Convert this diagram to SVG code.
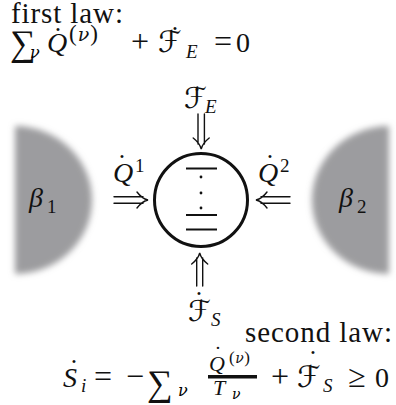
<svg xmlns="http://www.w3.org/2000/svg" width="396" height="405" viewBox="0 0 396 405">
<defs>
<filter id="blur" x="-20%" y="-20%" width="140%" height="140%"><feGaussianBlur stdDeviation="3"/></filter>
</defs>
<style>
.t{font-family:"Liberation Serif","Times New Roman",serif;fill:#111}
.i{font-style:italic}
.g{font-family:"DejaVu Serif","Liberation Serif",serif;font-style:italic}
.cal{font-family:"DejaVu Serif","DejaVu Sans","Noto Sans",serif;fill:#111}
.m{text-anchor:middle}
.arr{fill:none;stroke:#111;stroke-width:1.4;stroke-linecap:round}
.lvl{stroke:#111;stroke-width:2}
</style>
<rect width="396" height="405" fill="#fff"/>

<g id="bath1">
<path d="M15,126 A77,74 0 0 1 15,274 Z" fill="#9c9c9f" filter="url(#blur)"/>
<text class="t i" x="29" y="207" font-size="28">β</text>
<text class="t" x="47" y="213" font-size="19">1</text>
</g>

<g id="bath2">
<path d="M389,126 A77,74 0 0 0 389,274 Z" fill="#9c9c9f" filter="url(#blur)"/>
<text class="t i" x="339" y="207" font-size="28">β</text>
<text class="t" x="357" y="213" font-size="19">2</text>
</g>

<g id="system">
<circle cx="201" cy="200" r="46.5" fill="none" stroke="#111" stroke-width="3"/>
<line class="lvl" x1="186" y1="168.5" x2="217" y2="168.5"/>
<circle cx="201" cy="177" r="1.4" fill="#111"/>
<circle cx="201" cy="193" r="1.4" fill="#111"/>
<circle cx="201" cy="208" r="1.4" fill="#111"/>
<line class="lvl" x1="186" y1="215" x2="217" y2="215"/>
<line class="lvl" x1="186" y1="229.5" x2="217" y2="229.5"/>
</g>

<g id="connectors">
<path class="arr" d="M114,196.7 H143 M114,203.3 H143 M137,192 C140,196 144,199 148,200 C144,201 140,204 137,208"/>
<path class="arr" d="M261,196.7 H290 M261,203.3 H290 M267,192 C264,196 260,199 256,200 C260,201 264,204 267,208"/>
<path class="arr" d="M198,114 V144 M204.4,114 V144 M193.2,138 C197,141 200.2,145 201.2,149 C202.2,145 205.4,141 209.2,138"/>
<path class="arr" d="M196.7,258 V286 M202.7,258 V286 M191.7,264 C195.5,261 198.7,257 199.7,253 C200.7,257 203.9,261 207.7,264"/>
</g>

<g id="label-Q1">
<text class="t m" x="122" y="173" font-size="28">˙</text>
<text class="t i" x="113" y="182" font-size="28">Q</text>
<text class="t" x="135" y="172" font-size="19">1</text>
</g>
<g id="label-Q2">
<text class="t m" x="270" y="173" font-size="28">˙</text>
<text class="t i" x="258" y="182" font-size="28">Q</text>
<text class="t" x="280" y="172" font-size="19">2</text>
</g>
<g id="label-FE">
<text class="t m" x="197" y="106" font-size="28">˙</text>
<text class="cal" x="184" y="108" font-size="29">ℱ</text>
<text class="t i" x="205" y="113" font-size="19">E</text>
</g>
<g id="label-FS">
<text class="t m" x="199" y="310" font-size="28">˙</text>
<text class="cal" x="188" y="321" font-size="29">ℱ</text>
<text class="t i" x="211" y="326" font-size="19">S</text>
</g>

<g id="first-law">
<text class="t" x="11" y="23" font-size="29" textLength="112" lengthAdjust="spacing">first law:</text>
<text class="t" x="10" y="55" font-size="36">∑</text>
<text class="g" x="30" y="58" font-size="16">ν</text>
<text class="t m" x="58" y="46" font-size="28">˙</text>
<text class="t i" x="47" y="52" font-size="28">Q</text>
<text class="t" x="69" y="41" font-size="23">(<tspan class="g" font-size="19" dx="1">ν</tspan><tspan dx="1">)</tspan></text>
<text class="t m" x="140" y="52" font-size="32">+</text>
<text class="t m" x="175" y="45" font-size="28">˙</text>
<text class="cal" x="158" y="52" font-size="30">ℱ</text>
<text class="t i" x="186" y="58" font-size="19">E</text>
<text class="t m" x="223" y="52" font-size="32">=</text>
<text class="t" x="236" y="52" font-size="28">0</text>
</g>

<g id="second-law">
<text class="t" x="245" y="342" font-size="29" textLength="147" lengthAdjust="spacing">second law:</text>
<text class="t m" x="74" y="378" font-size="28">˙</text>
<text class="t i" x="63" y="387" font-size="28">S</text>
<text class="t i" x="81" y="392" font-size="19">i</text>
<text class="t m" x="103" y="387" font-size="32">=</text>
<text class="t m" x="135" y="387" font-size="32">−</text>
<text class="t" x="147" y="395" font-size="36">∑</text>
<text class="g" x="178" y="396" font-size="16">ν</text>
<text class="t m" x="218" y="361" font-size="22">˙</text>
<text class="t i" x="209" y="371" font-size="22">Q</text>
<text class="t" x="229" y="363" font-size="17">(<tspan class="g" font-size="14" dx="0.5">ν</tspan><tspan dx="0.5">)</tspan></text>
<rect x="208" y="375" width="49" height="3.5" fill="#111"/>
<text class="t i" x="213" y="395" font-size="22">T</text>
<text class="g" x="232" y="399" font-size="14">ν</text>
<text class="t m" x="280" y="387" font-size="32">+</text>
<text class="t m" x="313" y="369" font-size="28">˙</text>
<text class="cal" x="297" y="387" font-size="30">ℱ</text>
<text class="t i" x="323" y="392" font-size="19">S</text>
<text class="t m" x="357" y="387" font-size="32">≥</text>
<text class="t" x="375" y="387" font-size="28">0</text>
</g>
</svg>
